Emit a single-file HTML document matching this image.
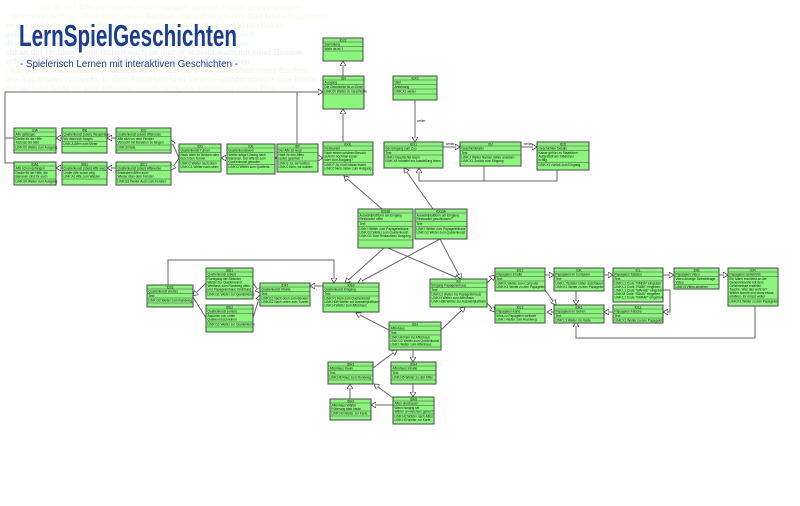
<!DOCTYPE html>
<html><head><meta charset="utf-8"><style>
html,body{margin:0;padding:0;background:#fff;width:800px;height:506px;overflow:hidden}
svg{display:block}
.b{fill:#8cf57e;stroke:#4a4a4a;stroke-width:1}
.d{stroke:#4a4a4a;stroke-width:0.6}
.t{font-family:"Liberation Sans",sans-serif;font-size:3.2px;fill:#111}
.h{font-family:"Liberation Sans",sans-serif;font-size:3.2px;fill:#111;text-anchor:middle}
.c{fill:none;stroke:#666;stroke-width:1}
.bg{font-family:"Liberation Sans",sans-serif;font-size:8px;font-weight:bold}
</style></head><body>
<svg width="800" height="506" viewBox="0 0 800 506" xmlns="http://www.w3.org/2000/svg">
<defs>
<marker id="a" markerWidth="6" markerHeight="6" refX="5" refY="3" orient="auto" markerUnits="userSpaceOnUse"><path d="M0,0 L5,3 L0,6 Z" fill="#fff" stroke="#444" stroke-width="0.8"/></marker>
</defs>
<g class="bg" opacity="0.14">
<text x="40" y="10" fill="#e8d860">Da ist ein Affe mit einem roten Papagei, dessen Flügel grün leuchten.</text>
<text x="10" y="19" fill="#d8e060">ihr macht sich das Rauschen eines Baches, woraufhin ihr das Bild eines Aquariums</text>
<text x="5" y="28" fill="#b8d870">wenig sieht ihr eine, der hört Regen eindruck im Wald sich. Auf der linken</text>
<text x="5" y="37" fill="#a0c8a0">gebung ist eine Gruppe mit Papageien mit bunten Federn zu euch</text>
<text x="5" y="46" fill="#90b8c0">des Baches, plätschert in den Tiefen des grünen Regenwald wie</text>
<text x="5" y="55" fill="#90a8d0">cht an der rechten Wand lächelt euch an und er scheint euch mit einer Banane</text>
<text x="5" y="64" fill="#a0a0d8">schen, seht ihr einem Lustig noch einen Affen an den Papageien</text>
<text x="5" y="73" fill="#c0c040">r habt. Unter das Rauschen der Blätter mischt sich das Rauschen eines Baches</text>
<text x="5" y="82" fill="#c8d070">des Aquariums entdeckt. In dem Aquarium seht ihr eine wunderschöne und bunte</text>
<text x="5" y="91" fill="#c8d8a0">der rechten Seite ist eine Infotafel angebracht, die scheinbar einen Plan vom</text>
</g>
<text x="19" y="46" font-family="'Liberation Sans',sans-serif" font-size="31" font-weight="bold" fill="#1b3d8c" textLength="218" lengthAdjust="spacingAndGlyphs">LernSpielGeschichten</text>
<text x="20" y="67" font-family="'Liberation Sans',sans-serif" font-size="10.5" fill="#1b3d8c" textLength="218" lengthAdjust="spacingAndGlyphs">- Spielerisch Lernen mit interaktiven Geschichten -</text>

<g class="c">
<line x1="343" y1="76" x2="343" y2="61" marker-end="url(#a)"/>
<line x1="343" y1="142" x2="343" y2="109" marker-end="url(#a)"/>
<polyline points="14,138 5,138 5,92 323,92" marker-end="url(#a)"/>
<polyline points="14,163 5,163 5,138"/>
<polyline points="297,144 297,92"/>
<line x1="62" y1="138" x2="56" y2="138" marker-end="url(#a)"/>
<line x1="62" y1="168" x2="56" y2="168" marker-end="url(#a)"/>
<line x1="116" y1="138" x2="107" y2="138" marker-end="url(#a)"/>
<line x1="116" y1="168" x2="107" y2="168" marker-end="url(#a)"/>
<line x1="179" y1="158" x2="171" y2="140" marker-end="url(#a)"/>
<line x1="179" y1="158" x2="171" y2="170" marker-end="url(#a)"/>
<line x1="227" y1="158" x2="221" y2="158" marker-end="url(#a)"/>
<line x1="277" y1="158" x2="275" y2="158" marker-end="url(#a)"/>
<line x1="318" y1="158" x2="323" y2="158" marker-end="url(#a)"/>
<line x1="415" y1="100" x2="415" y2="142" marker-end="url(#a)"/>
<line x1="443" y1="147" x2="460" y2="147" marker-end="url(#a)"/>
<line x1="521" y1="147" x2="537" y2="147" marker-end="url(#a)"/>
<polyline points="484,166 484,181 419,181 419,168" marker-end="url(#a)"/>
<polyline points="557,170 557,181 484,181"/>
<line x1="382" y1="209" x2="344" y2="176" marker-end="url(#a)"/>
<line x1="433" y1="209" x2="404" y2="168" marker-end="url(#a)"/>
<line x1="384" y1="248" x2="345" y2="283" marker-end="url(#a)"/>
<line x1="388" y1="248" x2="460" y2="279" marker-end="url(#a)"/>
<line x1="440" y1="239" x2="358" y2="283" marker-end="url(#a)"/>
<line x1="440" y1="239" x2="461" y2="279" marker-end="url(#a)"/>
<polyline points="168,285 168,260 334,260 334,283" marker-end="url(#a)"/>
<line x1="206" y1="283" x2="193" y2="296" marker-end="url(#a)"/>
<line x1="206" y1="318" x2="193" y2="297"/>
<line x1="253" y1="283" x2="260" y2="293" marker-end="url(#a)"/>
<line x1="253" y1="318" x2="260" y2="295" marker-end="url(#a)"/>
<line x1="323" y1="286" x2="310" y2="286" marker-end="url(#a)"/>
<line x1="389" y1="330" x2="356" y2="313" marker-end="url(#a)"/>
<line x1="441" y1="330" x2="465" y2="307" marker-end="url(#a)"/>
<line x1="413" y1="350" x2="413" y2="362" marker-end="url(#a)"/>
<line x1="373" y1="368" x2="397" y2="350" marker-end="url(#a)"/>
<line x1="413" y1="383" x2="413" y2="397" marker-end="url(#a)"/>
<line x1="393" y1="398" x2="374" y2="384" marker-end="url(#a)"/>
<line x1="393" y1="405" x2="371" y2="405" marker-end="url(#a)"/>
<line x1="350" y1="399" x2="350" y2="384" marker-end="url(#a)"/>
<line x1="487" y1="283" x2="495" y2="275" marker-end="url(#a)"/>
<line x1="487" y1="303" x2="495" y2="312" marker-end="url(#a)"/>
<line x1="545" y1="275" x2="554" y2="275" marker-end="url(#a)"/>
<line x1="604" y1="275" x2="613" y2="275" marker-end="url(#a)"/>
<line x1="663" y1="275" x2="674" y2="275" marker-end="url(#a)"/>
<line x1="719" y1="275" x2="728" y2="275" marker-end="url(#a)"/>
<line x1="576" y1="290" x2="576" y2="305" marker-end="url(#a)"/>
<line x1="545" y1="290" x2="556" y2="305" marker-end="url(#a)"/>
<polyline points="663,290 670,290 670,312 663,312" marker-end="url(#a)"/>
<line x1="613" y1="312" x2="604" y2="312" marker-end="url(#a)"/>
<line x1="554" y1="312" x2="547" y2="312" marker-end="url(#a)"/>
<polyline points="755,305 755,338 576,338 576,322" marker-end="url(#a)"/>
</g>
<g class="t" font-size="3">
<text x="417" y="122">weiter</text>
<text x="446" y="145">weiter</text>
<text x="524" y="145">weiter</text>
</g>

<g>
<rect class="b" x="323" y="38" width="40" height="23"/><text class="h" x="343" y="41.3">ID22</text>
<line class="d" x1="323" y1="42" x2="363" y2="42"/><text class="t" x="324.5" y="45.5">Sammlung</text><line class="d" x1="323" y1="46.5" x2="363" y2="46.5"/><text class="t" x="324.5" y="49.8">Wahr da ist ?</text><line class="d" x1="323" y1="51" x2="363" y2="51"/>
<rect class="b" x="323" y="76" width="41" height="33"/><text class="h" x="343.5" y="79.3">ID0</text>
<line class="d" x1="323" y1="80" x2="364" y2="80"/><text class="t" x="324.5" y="83.5">Ausgang</text><line class="d" x1="323" y1="84.5" x2="364" y2="84.5"/><text class="t" x="324.5" y="88">Die Geschichte ist zu Ende</text><line class="d" x1="323" y1="89" x2="364" y2="89"/><text class="t" x="324.5" y="92.5">LINK:00 Weiter zu Geschichte</text><line class="d" x1="323" y1="94" x2="364" y2="94"/>
<rect class="b" x="393" y="76" width="44" height="24"/><text class="h" x="415" y="79.3">IDX0</text>
<line class="d" x1="393" y1="80" x2="437" y2="80"/><text class="t" x="394.5" y="83.5">Start</text><line class="d" x1="393" y1="84.5" x2="437" y2="84.5"/><text class="t" x="394.5" y="88">Anfahrung</text><line class="d" x1="393" y1="89" x2="437" y2="89"/><text class="t" x="394.5" y="92.5">LINK:X1 weiter</text><line class="d" x1="393" y1="94" x2="437" y2="94"/>
<rect class="b" x="14" y="128" width="42" height="25"/><text class="h" x="35" y="131.3">IDA</text>
<line class="d" x1="14" y1="132" x2="56" y2="132"/><text class="t" x="15.5" y="135.5">Affe gefangen</text><line class="d" x1="14" y1="136.5" x2="56" y2="136.5"/><text class="t" x="15.5" y="140">Danke für die Hilfe</text><text class="t" x="15.5" y="143.5">Tschüss bis bald</text><line class="d" x1="14" y1="145" x2="56" y2="145"/><text class="t" x="15.5" y="148.5">LINK:00 Weiter zum Ausgang</text><line class="d" x1="14" y1="150" x2="56" y2="150"/>
<rect class="b" x="14" y="162" width="42" height="23"/><text class="h" x="35" y="165.3">IDA1</text>
<line class="d" x1="14" y1="166" x2="56" y2="166"/><text class="t" x="15.5" y="169.5">Affe schon gefangen</text><line class="d" x1="14" y1="170.5" x2="56" y2="170.5"/><text class="t" x="15.5" y="174">Danke für die Hilfe, die</text><text class="t" x="15.5" y="177.5">Bananen sind für euch</text><line class="d" x1="14" y1="179" x2="56" y2="179"/><text class="t" x="15.5" y="182.5">LINK:00 Weiter zum Ausgang</text>
<rect class="b" x="62" y="128" width="45" height="25"/><text class="h" x="84.5" y="131.3">IDB</text>
<line class="d" x1="62" y1="132" x2="107" y2="132"/><text class="t" x="63.5" y="135.5">Quellenkunst (oben) Wegeinlage</text><line class="d" x1="62" y1="136.5" x2="107" y2="136.5"/><text class="t" x="63.5" y="140">Wo lässt sich fangen</text><line class="d" x1="62" y1="141.5" x2="107" y2="141.5"/><text class="t" x="63.5" y="145">LINK:A Affen zum Meter</text><line class="d" x1="62" y1="146.5" x2="107" y2="146.5"/>
<rect class="b" x="62" y="162" width="45" height="23"/><text class="h" x="84.5" y="165.3">IDB1</text>
<line class="d" x1="62" y1="166" x2="107" y2="166"/><text class="t" x="63.5" y="169.5">Quellenkunst (oben) Affe weg</text><line class="d" x1="62" y1="170.5" x2="107" y2="170.5"/><text class="t" x="63.5" y="174">Leider Affe schon weg</text><text class="t" x="63.5" y="177.5">LINK:A1 Affe zum Wasser</text><line class="d" x1="62" y1="179" x2="107" y2="179"/>
<rect class="b" x="116" y="128" width="55" height="25"/><text class="h" x="143.5" y="131.3">IDC</text>
<line class="d" x1="116" y1="132" x2="171" y2="132"/><text class="t" x="117.5" y="135.5">Quellenkunst (oben) Affenecke</text><line class="d" x1="116" y1="136.5" x2="171" y2="136.5"/><text class="t" x="117.5" y="140">Affe sitzt vor dem Fenster</text><text class="t" x="117.5" y="143.5">Versucht mit Bananen zu fangen</text><line class="d" x1="116" y1="145" x2="171" y2="145"/><text class="t" x="117.5" y="148.5">LINK:B Falle</text><line class="d" x1="116" y1="150" x2="171" y2="150"/>
<rect class="b" x="116" y="162" width="55" height="23"/><text class="h" x="143.5" y="165.3">IDC1</text>
<line class="d" x1="116" y1="166" x2="171" y2="166"/><text class="t" x="117.5" y="169.5">Quellenkunst (oben) Affenecke</text><line class="d" x1="116" y1="170.5" x2="171" y2="170.5"/><text class="t" x="117.5" y="174">Entdecken Affen auch</text><text class="t" x="117.5" y="177.5">Wieder über dem Fenster</text><line class="d" x1="116" y1="179" x2="171" y2="179"/><text class="t" x="117.5" y="182.5">LINK:B1 Weiter Auch zum Fenster</text>
<rect class="b" x="179" y="144" width="42" height="28"/><text class="h" x="200" y="147.3">IDD</text>
<line class="d" x1="179" y1="148" x2="221" y2="148"/><text class="t" x="180.5" y="151.5">Quellenkunst Tunnel</text><line class="d" x1="179" y1="152.5" x2="221" y2="152.5"/><text class="t" x="180.5" y="156">Nach oben im Becken oder</text><text class="t" x="180.5" y="159.5">durch den Tunnel</text><line class="d" x1="179" y1="161" x2="221" y2="161"/><text class="t" x="180.5" y="164.5">LINK:C Weiter nach oben</text><text class="t" x="180.5" y="168">LINK:C1 Weiter nach oben</text>
<rect class="b" x="227" y="144" width="48" height="30"/><text class="h" x="251" y="147.3">IDE</text>
<line class="d" x1="227" y1="148" x2="275" y2="148"/><text class="t" x="228.5" y="151.5">Quellenkunstwerk</text><line class="d" x1="227" y1="152.5" x2="275" y2="152.5"/><text class="t" x="228.5" y="156">Weiter artige Lösung nach</text><text class="t" x="228.5" y="159.5">Bananen. Der Affe ist zum</text><text class="t" x="228.5" y="163">Quellenkunst gelaufen</text><line class="d" x1="227" y1="164.5" x2="275" y2="164.5"/><text class="t" x="228.5" y="168">LINK:D Weiter zum Quellenk.</text>
<rect class="b" x="277" y="144" width="41" height="28"/><text class="h" x="297.5" y="147.3">IDF</text>
<line class="d" x1="277" y1="148" x2="318" y2="148"/><text class="t" x="278.5" y="151.5">Der Affe ist weg!</text><line class="d" x1="277" y1="152.5" x2="318" y2="152.5"/><text class="t" x="278.5" y="156">Habt ihr den Affen</text><text class="t" x="278.5" y="159.5">laufen gesehen ?</text><line class="d" x1="277" y1="161" x2="318" y2="161"/><text class="t" x="278.5" y="164.5">LINK:E Ja, wir wollten</text><text class="t" x="278.5" y="168">LINK:0 Nein, wir wollten</text>
<rect class="b" x="323" y="142" width="50" height="33"/><text class="h" x="348" y="145.3">IDG1</text>
<line class="d" x1="323" y1="146" x2="373" y2="146"/><text class="t" x="324.5" y="149.5">Restaurant</text><line class="d" x1="323" y1="150.5" x2="373" y2="150.5"/><text class="t" x="324.5" y="154">Nach einem schönen Besuch</text><text class="t" x="324.5" y="157.5">seht ihr nochmal essen</text><text class="t" x="324.5" y="161">oder zum Ausgang?</text><line class="d" x1="323" y1="162.5" x2="373" y2="162.5"/><text class="t" x="324.5" y="166">LINK:F Ja, noch etwas essen</text><text class="t" x="324.5" y="169.5">LINK:0 Nein, lieber zum Ausgang</text>
<rect class="b" x="384" y="142" width="59" height="26"/><text class="h" x="413.5" y="145.3">IDX1</text>
<line class="d" x1="384" y1="146" x2="443" y2="146"/><text class="t" x="385.5" y="149.5">Der Eingang zum Zoo</text><line class="d" x1="384" y1="150.5" x2="443" y2="150.5"/><text class="t" x="385.5" y="154">Text</text><line class="d" x1="384" y1="155" x2="443" y2="155"/><text class="t" x="385.5" y="158.5">LINK:I Geschichte lesen</text><text class="t" x="385.5" y="162">LINK:X4 Infotafel zur Ausstellung lesen</text>
<rect class="b" x="460" y="142" width="61" height="24"/><text class="h" x="490.5" y="145.3">IDJ</text>
<line class="d" x1="460" y1="146" x2="521" y2="146"/><text class="t" x="461.5" y="149.5">Geschichtetafel</text><line class="d" x1="460" y1="150.5" x2="521" y2="150.5"/><text class="t" x="461.5" y="154">Text</text><line class="d" x1="460" y1="155" x2="521" y2="155"/><text class="t" x="461.5" y="158.5">LINK:J Weiter Namen näher ansehen</text><text class="t" x="461.5" y="162">LINK:X1 Zurück zum Eingang</text>
<rect class="b" x="537" y="142" width="52" height="28"/><text class="h" x="563" y="145.3">IDJ2</text>
<line class="d" x1="537" y1="146" x2="589" y2="146"/><text class="t" x="538.5" y="149.5">Geschichten Details</text><line class="d" x1="537" y1="150.5" x2="589" y2="150.5"/><text class="t" x="538.5" y="154">Kaiser gehört zu Staatsform</text><text class="t" x="538.5" y="157.5">Aufgestellt am Städtchen</text><text class="t" x="538.5" y="161">richtig</text><line class="d" x1="537" y1="162.5" x2="589" y2="162.5"/><text class="t" x="538.5" y="166">LINK:X1 zurück zum Eingang</text>
<rect class="b" x="358" y="209" width="55" height="39"/><text class="h" x="385.5" y="212.3">IDG3B</text>
<line class="d" x1="358" y1="213" x2="413" y2="213"/><text class="t" x="359.5" y="216.5">Auswahlplattform am Eingang</text><text class="t" x="359.5" y="220">Restaurant offen</text><line class="d" x1="358" y1="221.5" x2="413" y2="221.5"/><text class="t" x="359.5" y="225">Text</text><line class="d" x1="358" y1="226.5" x2="413" y2="226.5"/><text class="t" x="359.5" y="230">LINK:I Weiter zum Papageienhaus</text><text class="t" x="359.5" y="233.5">LINK:G2 Weiter zum Quellenkunst</text><text class="t" x="359.5" y="237">LINK:G1 Zum Restaurant / Ausgang</text><line class="d" x1="358" y1="240" x2="413" y2="240"/>
<rect class="b" x="415" y="209" width="52" height="30"/><text class="h" x="441" y="212.3">IDG3A</text>
<line class="d" x1="415" y1="213" x2="467" y2="213"/><text class="t" x="416.5" y="216.5">Auswahlplattform am Eingang</text><text class="t" x="416.5" y="220">Restaurant geschlossen?</text><line class="d" x1="415" y1="221.5" x2="467" y2="221.5"/><text class="t" x="416.5" y="225">Text</text><line class="d" x1="415" y1="226.5" x2="467" y2="226.5"/><text class="t" x="416.5" y="230">LINK:I Weiter zum Papageienhaus</text><text class="t" x="416.5" y="233.5">LINK:G2 Weiter zum Quellenkunst</text>
<rect class="b" x="147" y="285" width="46" height="22"/><text class="h" x="170" y="288.3">ID03</text>
<line class="d" x1="147" y1="289" x2="193" y2="289"/><text class="t" x="148.5" y="292.5">Quellenkunst (Kette)</text><line class="d" x1="147" y1="293.5" x2="193" y2="293.5"/><text class="t" x="148.5" y="297">Text</text><line class="d" x1="147" y1="298" x2="193" y2="298"/><text class="t" x="148.5" y="301.5">LINK:G2 Weiter zum Rundweg</text><line class="d" x1="147" y1="303" x2="193" y2="303"/>
<rect class="b" x="206" y="268" width="47" height="31"/><text class="h" x="229.5" y="271.3">IDE1</text>
<line class="d" x1="206" y1="272" x2="253" y2="272"/><text class="t" x="207.5" y="275.5">Quellenkunst (oben)</text><line class="d" x1="206" y1="276.5" x2="253" y2="276.5"/><text class="t" x="207.5" y="280">Rundgang der Stränder</text><text class="t" x="207.5" y="283.5">Weiter Zur Quellenkunst</text><text class="t" x="207.5" y="287">Weitheus zum Rundweg offen</text><text class="t" x="207.5" y="290.5">und Papageienhaus Umleitung</text><line class="d" x1="206" y1="292" x2="253" y2="292"/><text class="t" x="207.5" y="295.5">LINK:G1 Weiter zur Quellenkunst</text>
<rect class="b" x="206" y="305" width="47" height="27"/><text class="h" x="229.5" y="308.3">IDE2</text>
<line class="d" x1="206" y1="309" x2="253" y2="309"/><text class="t" x="207.5" y="312.5">Quellenkunst (unten)</text><line class="d" x1="206" y1="313.5" x2="253" y2="313.5"/><text class="t" x="207.5" y="317">Aquarien von unten</text><text class="t" x="207.5" y="320.5">Quellen beschreiben</text><line class="d" x1="206" y1="322" x2="253" y2="322"/><text class="t" x="207.5" y="325.5">LINK:G1 Weiter zur Quellenkunst</text><line class="d" x1="206" y1="327" x2="253" y2="327"/>
<rect class="b" x="260" y="283" width="50" height="23"/><text class="h" x="285" y="286.3">IDF1</text>
<line class="d" x1="260" y1="287" x2="310" y2="287"/><text class="t" x="261.5" y="290.5">Quellenkunst Inhalte</text><line class="d" x1="260" y1="291.5" x2="310" y2="291.5"/><text class="t" x="261.5" y="295">Text</text><line class="d" x1="260" y1="296" x2="310" y2="296"/><text class="t" x="261.5" y="299.5">LINK:E1 Nach oben zum Becken</text><text class="t" x="261.5" y="303">LINK:E2 Nach unten zum Tunnel</text>
<rect class="b" x="323" y="283" width="56" height="29"/><text class="h" x="351" y="286.3">IDE0</text>
<line class="d" x1="323" y1="287" x2="379" y2="287"/><text class="t" x="324.5" y="290.5">Quellenkunst Eingang</text><line class="d" x1="323" y1="291.5" x2="379" y2="291.5"/><text class="t" x="324.5" y="295">Text</text><line class="d" x1="323" y1="296" x2="379" y2="296"/><text class="t" x="324.5" y="299.5">LINK:F1 Rein zum Quellenkunst</text><text class="t" x="324.5" y="303">LINK:H0B Weiter zur Auswahlplattform</text><text class="t" x="324.5" y="306.5">LINK:H Weiter zum Affenhaus</text>
<rect class="b" x="430" y="279" width="57" height="28"/><text class="h" x="458.5" y="282.3">IDI</text>
<line class="d" x1="430" y1="283" x2="487" y2="283"/><text class="t" x="431.5" y="286.5">Eingang Papageienhaus</text><line class="d" x1="430" y1="287.5" x2="487" y2="287.5"/><text class="t" x="431.5" y="291">Text</text><line class="d" x1="430" y1="292" x2="487" y2="292"/><text class="t" x="431.5" y="295.5">LINK:L2 Weiter ins Papageienhaus</text><text class="t" x="431.5" y="299">LINK:H Weiter zum Affenhaus</text><text class="t" x="431.5" y="302.5">LINK:H0B Weiter zur Auswahlplattform</text>
<rect class="b" x="389" y="322" width="52" height="28"/><text class="h" x="415" y="325.3">IDH</text>
<line class="d" x1="389" y1="326" x2="441" y2="326"/><text class="t" x="390.5" y="329.5">Affenhaus</text><line class="d" x1="389" y1="330.5" x2="441" y2="330.5"/><text class="t" x="390.5" y="334">Text</text><line class="d" x1="389" y1="335" x2="441" y2="335"/><text class="t" x="390.5" y="338.5">LINK:H4 Rein ins Affenhaus</text><text class="t" x="390.5" y="342">LINK:G2 Weiter zum Quellenkunst</text><text class="t" x="390.5" y="345.5">LINK:I Weiter zum Affenhaus</text><line class="d" x1="389" y1="347" x2="441" y2="347"/>
<rect class="b" x="328" y="362" width="45" height="22"/><text class="h" x="350.5" y="365.3">IDH3</text>
<line class="d" x1="328" y1="366" x2="373" y2="366"/><text class="t" x="329.5" y="369.5">Affenhaus Raum</text><line class="d" x1="328" y1="370.5" x2="373" y2="370.5"/><text class="t" x="329.5" y="374">Text</text><line class="d" x1="328" y1="375" x2="373" y2="375"/><text class="t" x="329.5" y="378.5">LINK:H5 Raus zum Rundweg</text><line class="d" x1="328" y1="380" x2="373" y2="380"/>
<rect class="b" x="391" y="362" width="45" height="22"/><text class="h" x="413.5" y="365.3">IDH4</text>
<line class="d" x1="391" y1="366" x2="436" y2="366"/><text class="t" x="392.5" y="369.5">Affenhaus Inhalte</text><line class="d" x1="391" y1="370.5" x2="436" y2="370.5"/><text class="t" x="392.5" y="374">Text</text><line class="d" x1="391" y1="375" x2="436" y2="375"/><text class="t" x="392.5" y="378.5">LINK:H5 Weiter zu den Affen</text><line class="d" x1="391" y1="380" x2="436" y2="380"/>
<rect class="b" x="330" y="399" width="41" height="21"/><text class="h" x="350.5" y="402.3">IDH2</text>
<line class="d" x1="330" y1="403" x2="371" y2="403"/><text class="t" x="331.5" y="406.5">Affenhaus Wärter</text><text class="t" x="331.5" y="410">Fütterung statt heute</text><line class="d" x1="330" y1="411" x2="371" y2="411"/><text class="t" x="331.5" y="414.5">LINK:H3 Weiter zur Karte</text><line class="d" x1="330" y1="416" x2="371" y2="416"/>
<rect class="b" x="393" y="397" width="41" height="27"/><text class="h" x="413.5" y="400.3">IDH5</text>
<line class="d" x1="393" y1="401" x2="434" y2="401"/><text class="t" x="394.5" y="404.5">Affen anschauen</text><line class="d" x1="393" y1="405.5" x2="434" y2="405.5"/><text class="t" x="394.5" y="409">Wann hungrig sei</text><text class="t" x="394.5" y="412.5">Wärter an welchem gehen?</text><line class="d" x1="393" y1="414" x2="434" y2="414"/><text class="t" x="394.5" y="417.5">LINK:H2 Wärter nach Affen</text><text class="t" x="394.5" y="421">LINK:H3 Weiter zur Karte</text>
<rect class="b" x="495" y="268" width="50" height="23"/><text class="h" x="520" y="271.3">IDL2</text>
<line class="d" x1="495" y1="272" x2="545" y2="272"/><text class="t" x="496.5" y="275.5">Papageien Inhalte</text><line class="d" x1="495" y1="276.5" x2="545" y2="276.5"/><text class="t" x="496.5" y="280">Text</text><line class="d" x1="495" y1="281" x2="545" y2="281"/><text class="t" x="496.5" y="284.5">LINK:K Weiter zum Computer</text><text class="t" x="496.5" y="288">LINK:K1 Weiter zu den Papageien</text>
<rect class="b" x="554" y="268" width="50" height="23"/><text class="h" x="579" y="271.3">IDK</text>
<line class="d" x1="554" y1="272" x2="604" y2="272"/><text class="t" x="555.5" y="275.5">Papageien im Computer</text><line class="d" x1="554" y1="276.5" x2="604" y2="276.5"/><text class="t" x="555.5" y="280">Text</text><line class="d" x1="554" y1="281" x2="604" y2="281"/><text class="t" x="555.5" y="284.5">LINK:L Tastatur näher anschauen</text><text class="t" x="555.5" y="288">LINK:K1 Weiter zu den Papageien</text>
<rect class="b" x="613" y="268" width="50" height="34"/><text class="h" x="638" y="271.3">IDL</text>
<line class="d" x1="613" y1="272" x2="663" y2="272"/><text class="t" x="614.5" y="275.5">Papageien Tastatur</text><line class="d" x1="613" y1="276.5" x2="663" y2="276.5"/><text class="t" x="614.5" y="280">Text</text><line class="d" x1="613" y1="281" x2="663" y2="281"/><text class="t" x="614.5" y="284.5">LINK:L1 Code "RMDA" eingeben</text><text class="t" x="614.5" y="288">LINK:L1 Code "RABE" eingeben</text><text class="t" x="614.5" y="291.5">LINK:L1 Code "WAHAE" eingeben</text><text class="t" x="614.5" y="295">LINK:M Code "RAMA" eingeben</text><text class="t" x="614.5" y="298.5">LINK:L1 Code "RARAP" eingeben</text>
<rect class="b" x="674" y="268" width="45" height="21"/><text class="h" x="696.5" y="271.3">IDM</text>
<line class="d" x1="674" y1="272" x2="719" y2="272"/><text class="t" x="675.5" y="275.5">Papageien Video</text><line class="d" x1="674" y1="276.5" x2="719" y2="276.5"/><text class="t" x="675.5" y="280">Video Anzeige Seewelteage</text><text class="t" x="675.5" y="283.5">Video</text><line class="d" x1="674" y1="284.5" x2="719" y2="284.5"/><text class="t" x="675.5" y="288">LINK:N Video ansehen</text>
<rect class="b" x="728" y="268" width="50" height="38"/><text class="h" x="753" y="271.3">IDN</text>
<line class="d" x1="728" y1="272" x2="778" y2="272"/><text class="t" x="729.5" y="275.5">Papageien Geheimnis</text><line class="d" x1="728" y1="276.5" x2="778" y2="276.5"/><text class="t" x="729.5" y="280">Ein Mann erscheint an der</text><text class="t" x="729.5" y="283.5">Geheimnisvolle mit dem</text><text class="t" x="729.5" y="287">Geheimnisse erzählen</text><text class="t" x="729.5" y="290.5">Tauche. Was das wohl ist?</text><text class="t" x="729.5" y="294">Wärter kommt und muss etwas</text><text class="t" x="729.5" y="297.5">erklären. Ihr müsst weiter</text><line class="d" x1="728" y1="299" x2="778" y2="299"/><text class="t" x="729.5" y="302.5">LINK:K1 Weiter zu den Papageien</text>
<rect class="b" x="495" y="305" width="50" height="18"/><text class="h" x="520" y="308.3">IDL3</text>
<line class="d" x1="495" y1="309" x2="545" y2="309"/><text class="t" x="496.5" y="312.5">Papageien Karte</text><line class="d" x1="495" y1="313.5" x2="545" y2="313.5"/><text class="t" x="496.5" y="317">Infos zu Papageien weltweit</text><text class="t" x="496.5" y="320.5">LINK:I Weiter zum Rundweg</text>
<rect class="b" x="554" y="305" width="50" height="18"/><text class="h" x="579" y="308.3">IDK1</text>
<line class="d" x1="554" y1="309" x2="604" y2="309"/><text class="t" x="555.5" y="312.5">Papageien im Gehen</text><line class="d" x1="554" y1="313.5" x2="604" y2="313.5"/><text class="t" x="555.5" y="317">Text</text><line class="d" x1="554" y1="318" x2="604" y2="318"/><text class="t" x="555.5" y="321.5">LINK:L3 Weiter zur Karte</text>
<rect class="b" x="613" y="305" width="50" height="18"/><text class="h" x="638" y="308.3">IDL1</text>
<line class="d" x1="613" y1="309" x2="663" y2="309"/><text class="t" x="614.5" y="312.5">Papageien Falsche</text><line class="d" x1="613" y1="313.5" x2="663" y2="313.5"/><text class="t" x="614.5" y="317">Text</text><line class="d" x1="613" y1="318" x2="663" y2="318"/><text class="t" x="614.5" y="321.5">LINK:K1 Weiter zu den Papageien</text>
</g>
</svg>
</body></html>
